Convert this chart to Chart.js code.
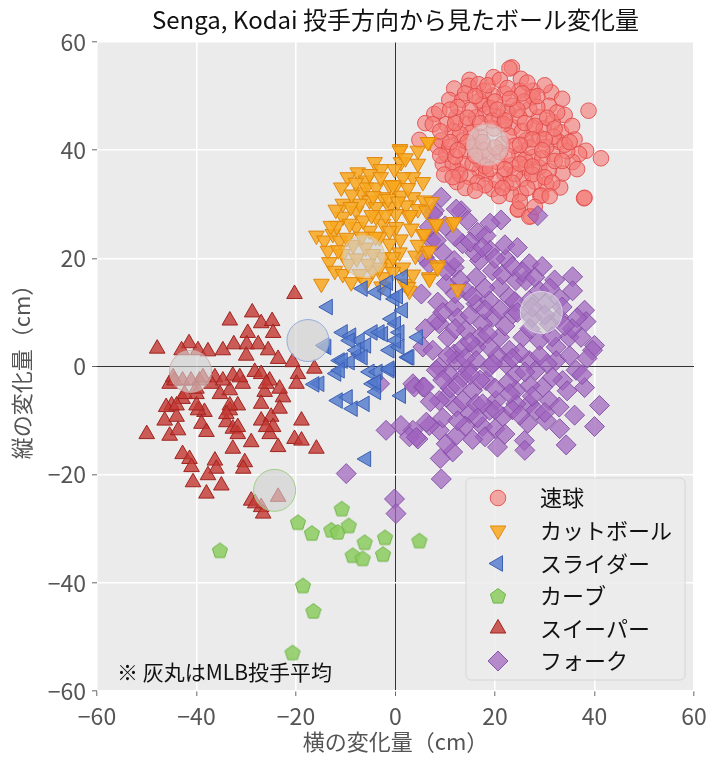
<!DOCTYPE html>
<html><head><meta charset="utf-8">
<script src="https://cdn.jsdelivr.net/npm/chart.js@4.4.1/dist/chart.umd.min.js"></script>
<style>html,body{margin:0;padding:0;background:#fff}canvas{display:block}</style>
</head><body>
<canvas id="c" width="720" height="765"></canvas>
<script>
const titleText = 'Senga, Kodai 投手方向から見たボール変化量';
const xTitle = '横の変化量（cm）';
const yTitle = '縦の変化量（cm）';
const noteText = '※ 灰丸はMLB投手平均';
const pitchNames = ['速球', 'カットボール', 'スライダー', 'カーブ', 'スイーパー', 'フォーク'];
const axisMin = -60, axisMax = 60, axisStep = 20;

const fastball = [[23.4,55.3],[22.9,55.1],[19.7,53.5],[25.2,53.2],[14.9,53.0],[14.7,51.9],[11.8,51.4],[16.7,52.2],[31.3,50.7],[27.6,51.0],[24.9,51.0],[38.8,47.3],[10.8,49.3],[13.4,49.3],[6.0,45.0],[7.8,46.7],[4.8,41.9],[9.5,37.5],[12.3,34.1],[19.5,32.8],[25.2,32.0],[29.1,31.6],[33.1,33.1],[24.6,29.0],[27.2,27.8],[37.9,31.1],[41.3,38.5],[38.3,39.9],[36.9,39.3],[35.6,37.8],[33.6,35.7],[33.3,43.3],[32.9,41.5],[30.9,48.2],[21.9,50.5],[19.5,50.1],[17.5,48.5],[8.5,40.6],[12.5,36.2],[16.9,36.2],[21.9,35.6],[25.6,34.7],[30.3,33.7],[28.9,36.8],[31.6,39.3],[31.6,45.2],[28.9,46.1],[26.9,47.6],[23.6,48.2],[18.2,46.7],[14.2,44.8],[11.5,43.6],[9.2,41.8],[10.2,39.3],[14.2,39.9],[13.5,37.5],[16.9,38.1],[24.9,39.3],[26.2,41.8],[28.9,42.4],[27.6,44.2],[23.6,44.2],[24.9,46.1],[20.9,46.1],[16.2,46.1],[12.2,46.1],[10.2,44.8],[13.5,41.8],[10.8,40.6],[22.2,33.7],[20.2,34.4],[23.2,37.2],[27.6,38.7],[26.2,36.8],[16.9,49.2],[27.6,49.8],[30.3,40.6],[14.9,35.0],[18.2,35.6],[23.2,31.9],[11.5,37.5],[7.5,44.8],[8.8,47.3],[24.6,29.1],[26.9,27.7],[38.0,31.2],[29.3,31.6],
[17.0,42.5],[19.8,44.0],[21.5,41.2],[15.6,40.8],[18.8,39.0],[20.5,37.8],[22.8,42.7],[25.4,43.5],[19.0,47.8],[15.2,43.2],[17.8,40.0],[21.0,39.6],[23.9,40.8],[26.0,38.2],[29.5,38.5],[30.8,36.2],[28.0,34.2],[24.0,35.6],[18.0,37.0],[13.0,43.0],[12.0,38.8],[15.0,47.5],[20.0,49.0],[22.5,47.0],[25.8,49.0],[29.8,44.0],[34.5,39.8],[31.8,42.5],[27.0,40.5],[16.5,34.0],[20.8,31.5],[14.0,33.0],[9.8,35.5],[17.8,51.0],[30.0,52.0],[34.0,46.5],[36.0,42.0],[12.5,48.0],[27.5,35.5],[21.8,44.8],
[14.0,50.5],[18.5,52.0],[21.0,53.0],[26.5,52.5],[28.5,48.0],[32.5,47.0],[33.5,49.5],[35.5,44.5],[34.0,41.0],[36.5,36.5],[32.0,38.0],[30.0,35.0],[26.5,33.0],[23.5,34.0],[21.5,33.0],[18.0,33.5],[15.5,37.5],[13.0,35.5],[11.0,41.5],[9.0,43.5],[12.0,45.0],[14.5,46.0],[17.0,45.0],[19.5,45.5],[22.0,45.5],[24.5,47.5],[26.0,45.0],[28.0,44.5],[30.5,46.0],[32.0,44.0],[30.0,42.0],[27.5,42.0],[25.0,41.0],[22.5,39.0],[20.0,40.5],[17.5,41.5],[16.0,39.0],[14.5,41.5],[12.5,40.0],[19.0,36.5],[22.0,36.5],[25.0,37.5],[27.5,37.0],[29.5,40.0],[31.5,34.0],[33.5,38.0],[35.0,41.5],[11.0,47.5],[16.0,50.0],[22.5,51.5],[25.5,50.5],[28.5,50.0],[20.5,47.5],[23.0,49.5],[9.0,39.0],[11.5,35.0],[16.0,32.5],[25.0,30.5],[28.0,29.5],[31.0,31.5]];

const cutter = [[0.9,40.2],[4.5,39.9],[6.7,41.5],[1.1,37.8],[4.5,37.5],[-4.2,37.8],[-2.9,36.5],[-7.6,35.9],[-9.6,35.0],[-10.9,33.1],[3.5,35.0],[5.5,34.1],[-5.9,34.4],[-1.2,33.5],[0.1,33.5],[-6.9,32.2],[-10.6,30.1],[-5.2,30.7],[-2.5,31.3],[1.1,31.6],[3.5,31.3],[5.8,30.7],[4.5,29.1],[2.1,29.8],[-10.6,27.7],[-7.9,28.8],[-3.9,29.5],[-1.2,29.5],[11.5,26.4],[8.2,26.1],[5.5,24.5],[6.2,21.4],[8.5,18.7],[-15.9,24.2],[-14.3,23.3],[-12.6,24.5],[-13.6,21.4],[-13.3,19.3],[-12.2,17.7],[-10.6,17.1],[-8.9,15.6],[-14.9,15.3],[-4.6,17.7],[-2.5,16.5],[-1.2,19.0],[1.5,18.3],[0.8,21.1],[1.8,15.3],[2.8,14.0],[-1.2,22.7],[-7.9,25.8],[-5.2,25.1],[-2.5,26.4],[0.1,25.8],[-3.9,27.7],[-6.5,27.0],[-9.2,26.4],[-11.2,23.3],[-3.2,23.9],[-1.2,25.1],[-10.6,20.8],[-2.5,20.2],[-0.5,20.2],[-3.2,18.3],[-7.2,17.1],[-5.9,33.1],[-3.9,33.1],[1.5,35.0],[-5.2,35.6],[-7.2,30.1],[0.1,28.2],[2.8,27.7],[6.8,16.5],[6.2,28.8],[7.2,30.4],[11.8,26.7],[8.2,26.4],[5.8,24.5],[6.8,21.4],[8.5,18.3],[6.8,16.2],[12.5,14.3],[2.5,14.7],[0.9,39.9],[6.5,41.5],
[-8.5,22.5],[-6.0,22.0],[-4.5,20.8],[-9.5,19.0],[-5.5,19.0],[-7.8,20.0],[-4.0,24.0],[-9.8,23.8],[-2.0,28.0],[-8.8,31.8],[-0.2,36.5],[2.5,33.0],[-4.8,28.0],[-11.8,26.0],[-6.8,24.0],[-1.5,31.0],[3.2,25.5],[4.0,20.5],[-12.0,29.0],[1.0,23.5],
[-9.0,29.5],[-3.0,35.0],[2.0,38.5],[3.0,28.0],[-0.5,17.5],[-6.0,15.5],[-11.5,21.5],[-13.0,26.0],[-4.5,31.5],[0.5,30.5],[-8.0,34.0],[4.5,22.5],[3.5,17.0],[-2.8,14.8],[-0.5,33.5]];

const slider = [[-13.6,11.0],[-6.6,14.4],[-3.9,13.7],[-1.9,14.0],[-0.2,12.5],[1.5,16.5],[1.5,10.4],[-10.6,6.3],[-8.9,5.7],[-7.2,4.8],[-4.6,6.3],[-2.5,6.0],[0.1,7.9],[0.8,6.3],[4.5,5.4],[-13.9,3.6],[-11.2,1.1],[-9.2,0.8],[-7.2,2.3],[-5.9,3.9],[-1.2,3.0],[0.8,3.6],[2.5,1.7],[-11.9,-1.3],[-5.2,-1.0],[-3.6,-1.0],[-1.2,-0.7],[-15.3,-3.2],[-4.6,-3.2],[-3.9,-4.7],[-11.6,-6.3],[-9.6,-5.7],[-8.6,-7.8],[-6.2,-6.9],[1.1,-5.4],[-5.9,-17.1],[0.1,4.8],[-3.2,6.3],[-9.2,4.8],[-7.9,3.0],[-16.3,-3.3],[-14.3,3.9],[-10.6,1.1],[-11.2,-0.7],[-6.6,1.7],[2.8,1.7],[-1.2,-0.4],[-3.9,-2.9],[-0.8,8.8],[-1.5,15.5],[0.5,13.0]];

const curve = [[-10.8,-26.3],[-19.6,-28.8],[-16.8,-30.8],[-12.9,-30.2],[-11.6,-30.6],[-9.4,-29.4],[-6.2,-32.5],[-2.1,-31.6],[-8.6,-34.9],[-6.6,-35.5],[-2.5,-34.7],[4.8,-32.2],[-35.3,-34.0],[-18.6,-40.5],[-16.5,-45.2],[-20.7,-52.9]];

const sweeper = [[-20.3,13.4],[-28.8,10.0],[-33.3,8.5],[-27.0,8.0],[-24.8,8.4],[-24.6,6.2],[-29.7,6.2],[-47.9,3.3],[-41.5,4.3],[-43.0,3.0],[-39.7,3.0],[-37.7,2.8],[-34.7,3.0],[-32.5,4.1],[-29.9,4.1],[-27.6,4.1],[-25.6,3.0],[-23.6,1.4],[-20.7,0.8],[-16.3,-0.4],[-19.6,-1.4],[-19.9,-3.2],[-30.0,2.0],[-28.3,-1.0],[-32.7,-1.7],[-36.3,-2.0],[-45.4,-3.2],[-25.3,-2.6],[-27.0,-1.4],[-30.7,-3.2],[-22.6,-5.7],[-26.3,-4.7],[-35.3,-5.1],[-33.3,-4.4],[-40.0,-5.1],[-42.8,-6.0],[-45.0,-7.2],[-46.1,-7.5],[-38.4,-8.4],[-39.7,-8.1],[-33.3,-8.1],[-31.7,-7.2],[-27.0,-6.9],[-46.4,-10.0],[-44.0,-9.3],[-39.0,-10.6],[-34.0,-10.3],[-27.0,-10.0],[-25.0,-9.3],[-23.3,-7.8],[-18.9,-10.0],[-50.0,-12.5],[-45.4,-12.8],[-43.7,-11.8],[-38.0,-12.1],[-32.7,-11.5],[-31.7,-12.5],[-25.3,-12.5],[-24.6,-11.2],[-29.0,-14.0],[-32.7,-15.2],[-23.6,-14.9],[-20.3,-13.4],[-18.9,-13.7],[-15.9,-15.2],[-42.8,-16.2],[-41.4,-17.1],[-41.0,-18.6],[-36.3,-17.4],[-36.0,-18.9],[-30.3,-17.7],[-30.6,-18.9],[-40.7,-21.4],[-37.7,-20.1],[-35.0,-22.0],[-38.0,-23.5],[-29.0,-24.8],[-23.6,-24.1],[-27.0,-26.0],[-26.6,-27.2],[-31.3,-2.0],[-44.7,-2.0],[-44.0,-7.2],[-34.7,-2.6],[-33.3,-7.2],[-34.0,-8.8],[-40.0,-7.2],[-42.4,-5.1],[-26.0,-3.2],[-23.3,-4.1],[-37.0,-3.2],[-31.7,-11.2],[-26.0,-11.2],[-44.4,-2.6],[-42.8,-2.6],[-41.1,-2.6],[-39.4,-2.6],[-40.0,-4.1],[-38.7,-2.0],[-28.2,-25.3]];

const fork = [[9.2,31.3],[13.2,28.8],[21.2,27.1],[28.6,27.9],[7.8,28.8],[7.2,23.3],[9.5,21.1],[5.8,20.2],[5.2,13.4],[8.5,11.9],[16.5,24.8],[18.2,24.2],[13.5,22.7],[22.2,19.9],[26.9,19.0],[35.6,16.6],[35.6,14.0],[38.0,10.4],[38.3,8.3],[40.0,3.9],[11.8,18.3],[16.9,19.6],[19.5,17.7],[24.2,15.9],[28.9,14.0],[32.9,9.1],[34.9,5.4],[37.3,5.4],[10.2,15.3],[14.2,14.0],[16.2,16.5],[20.9,14.7],[22.9,12.8],[26.2,15.9],[8.8,7.9],[11.8,11.0],[16.2,11.6],[18.9,12.2],[19.5,9.1],[23.6,9.7],[26.9,12.2],[30.9,7.9],[10.5,5.4],[14.2,6.7],[17.5,7.9],[20.9,5.4],[25.6,5.4],[28.9,4.8],[16.2,3.6],[22.9,3.0],[32.3,3.6],[11.8,2.3],
[8.8,-0.1],[10.8,-1.4],[16.2,1.1],[22.2,0.5],[26.9,1.1],[32.3,1.1],[36.3,-0.7],[39.6,3.0],[3.5,-3.2],[5.5,-3.8],[-3.2,-3.2],[10.2,-5.7],[12.2,-7.5],[15.5,-4.4],[18.2,-2.6],[20.2,-6.3],[24.2,-4.4],[26.9,-6.9],[30.9,-6.3],[38.0,-3.9],[41.0,-7.2],[40.0,-11.1],[34.3,-14.5],[30.3,-10.0],[26.6,-10.5],[25.9,-13.7],[20.5,-14.9],[17.5,-11.1],[14.9,-8.7],[8.8,-11.8],[11.5,-15.8],[10.2,-14.3],[12.2,-12.8],[6.8,-10.9],[4.5,-13.4],[3.5,-11.8],[1.1,-10.9],[-1.9,-11.8],[-9.9,-19.8],[9.2,-20.8],[-0.2,-24.5],[0.1,-27.2],[8.8,-6.3],[13.5,-6.3],[16.2,-6.9],[18.9,-8.1],[21.6,-9.3],[24.2,-6.9],[28.2,-8.1],[32.9,-7.5],[29.6,-3.8],[33.6,-2.6],[13.5,-2.0],[18.9,-0.1],[24.2,-1.4],[28.2,-0.7],[12.2,1.1],[17.5,-6.9],[2.8,-13.0],[6.2,-10.3],
[12.2,29.1],[7.5,28.2],[6.8,25.8],[8.2,23.3],[10.2,17.7],[11.8,19.6],[6.8,19.0],[5.5,3.6],[8.2,8.5],[3.8,-3.8],[5.8,-3.8],[4.2,-13.1],[8.2,-0.7],
[12.5,9.0],[15.0,9.5],[18.0,14.5],[21.5,17.0],[24.0,12.0],[27.5,9.0],[30.0,11.5],[33.0,12.5],[13.0,16.0],[16.0,21.0],[19.0,21.5],[22.0,22.5],[14.5,-0.5],[20.5,2.0],[25.0,2.5],[30.5,0.5],[34.5,-4.5],[22.5,-3.0],[27.0,-3.5],[11.0,-4.0],[7.5,3.0],[9.5,-9.5],[14.0,-11.0],[20.0,-11.5],[23.5,-8.0],[13.5,3.5],[17.0,5.5],[19.5,0.5],[31.5,-2.0],[35.0,2.0],[36.5,9.0],[32.0,16.0],[29.5,18.5],[19.0,26.5],[24.5,22.0],[14.5,27.0],[6.0,7.0],[7.0,-6.5],[26.0,-15.5],[36.0,-9.0],[9.0,-17.0],
[10.0,26.0],[12.0,24.0],[15.0,23.0],[17.5,22.0],[20.0,20.0],[23.5,18.5],[25.5,17.5],[28.0,16.5],[31.0,14.5],[33.5,11.0],[35.5,7.0],[31.5,5.5],[27.0,7.0],[22.0,7.5],[18.5,6.0],[15.0,4.5],[12.0,7.0],[9.5,10.0],[12.0,13.5],[15.5,13.0],[18.0,10.5],[21.0,10.5],[24.5,10.0],[27.5,11.0],[29.0,2.0],[26.0,-1.0],[23.0,-5.0],[20.0,-4.0],[17.0,-2.5],[15.0,-1.5],[12.5,-3.5],[9.5,-2.5],[10.5,2.0],[14.0,1.5],[19.0,3.5],[23.5,1.5],[27.5,-5.5],[30.0,-8.5],[25.0,-9.0],[22.0,-12.5],[18.0,-13.0],[15.5,-13.5],[12.5,-10.0],[16.5,-9.5],[20.0,-8.0],[33.0,-11.5],[37.5,-1.5],[38.5,1.5],[34.0,7.5],[30.0,9.5]];

// MLB averages, same order as pitchNames
const mlbAvg = [[18.5,41.0],[-6.4,20.4],[-17.6,4.8],[-24.3,-22.9],[-41.2,-0.9],[29.3,10.0]];

const FONT = "'Noto Sans CJK JP', 'Noto Sans', sans-serif";

function makePentagon(r, fill, stroke) {
  const s = Math.ceil(r * 2 + 4);
  const c = document.createElement('canvas');
  c.width = s; c.height = s;
  const g = c.getContext('2d');
  g.beginPath();
  for (let i = 0; i < 5; i++) {
    const a = -Math.PI / 2 + i * 2 * Math.PI / 5;
    const px = s / 2 + r * Math.cos(a), py = s / 2 + 0.6 + r * Math.sin(a);
    if (i) g.lineTo(px, py); else g.moveTo(px, py);
  }
  g.closePath();
  g.fillStyle = fill; g.fill();
  g.lineWidth = 1; g.strokeStyle = stroke; g.stroke();
  return c;
}
const pentagon = makePentagon(8, 'rgba(140,205,95,0.85)', 'rgba(110,180,70,1)');

const styles = [
  { style: 'circle', radius: 7.8, rotation: 0, bg: 'rgba(245,120,115,0.6)', bd: 'rgba(225,70,70,0.85)', mlbBd: 'rgba(240,150,150,0.9)' },
  { style: 'triangle', radius: 9, rotation: 180, bg: 'rgba(248,168,30,0.85)', bd: 'rgba(225,135,10,1)', mlbBd: 'rgba(240,190,110,0.9)' },
  { style: 'triangle', radius: 9, rotation: 270, bg: 'rgba(80,120,205,0.8)', bd: 'rgba(60,95,180,1)', mlbBd: 'rgba(140,165,220,0.9)' },
  { style: pentagon, radius: 8, rotation: 0, bg: 'rgba(140,205,95,0.85)', bd: 'rgba(110,180,70,1)', mlbBd: 'rgba(150,205,120,0.9)' },
  { style: 'triangle', radius: 9, rotation: 0, bg: 'rgba(195,55,50,0.8)', bd: 'rgba(160,35,30,1)', mlbBd: 'rgba(205,170,170,0.9)' },
  { style: 'rectRot', radius: 10, rotation: 0, bg: 'rgba(160,100,190,0.72)', bd: 'rgba(130,75,165,0.9)', mlbBd: 'rgba(225,215,235,0.9)' }
];
const seriesData = [fastball, cutter, slider, curve, sweeper, fork];
const drawOrder = [6, 4, 3, 2, 1, 5]; // larger = drawn lower

const datasets = seriesData.map((pts, i) => ({
  label: pitchNames[i],
  data: pts.map(p => ({ x: p[0], y: p[1] })),
  pointStyle: styles[i].style,
  pointRadius: styles[i].radius,
  pointRotation: styles[i].rotation,
  backgroundColor: styles[i].bg,
  borderColor: styles[i].bd,
  pointBorderWidth: 1,
  order: drawOrder[i]
}));
datasets.push({
  label: 'MLB',
  data: mlbAvg.map(p => ({ x: p[0], y: p[1] })),
  pointStyle: 'circle',
  pointRadius: 21,
  backgroundColor: 'rgba(208,208,208,0.62)',
  borderColor: styles.map(s => s.mlbBd),
  pointBorderWidth: 1,
  order: 0
});

const bgPlugin = {
  id: 'bg',
  beforeDraw(chart) {
    const { ctx, chartArea: a } = chart;
    ctx.save();
    ctx.fillStyle = '#ffffff';
    ctx.fillRect(0, 0, chart.width, chart.height);
    ctx.fillStyle = '#EBEBEB';
    ctx.fillRect(a.left, a.top, a.right - a.left, a.bottom - a.top);
    ctx.restore();
  }
};

const textPlugin = {
  id: 'texts',
  afterDraw(chart) {
    const { ctx, chartArea: a } = chart;
    ctx.save();
    ctx.fillStyle = '#111';
    ctx.font = '24px ' + FONT;
    ctx.textAlign = 'center';
    ctx.textBaseline = 'middle';
    ctx.fillText(titleText, (a.left + a.right) / 2, 20);
    ctx.fillStyle = '#555';
    ctx.font = '22px ' + FONT;
    ctx.fillText(xTitle, (a.left + a.right) / 2, 742);
    ctx.save();
    ctx.translate(22, (a.top + a.bottom) / 2);
    ctx.rotate(-Math.PI / 2);
    ctx.fillText(yTitle, 0, 0);
    ctx.restore();
    ctx.fillStyle = '#111';
    ctx.font = '21px ' + FONT;
    ctx.textAlign = 'left';
    ctx.fillText(noteText, 117, 672);
    const bx = 466, by = 478, bw = 219, bh = 202;
    ctx.beginPath();
    ctx.roundRect(bx, by, bw, bh, 5);
    ctx.fillStyle = 'rgba(236,236,236,0.85)';
    ctx.fill();
    ctx.strokeStyle = '#d6d6d6';
    ctx.lineWidth = 1;
    ctx.stroke();
    const ys = [498, 530.5, 563.5, 596, 628.5, 661];
    pitchNames.forEach((name, i) => {
      const s = styles[i];
      ctx.fillStyle = s.bg;
      ctx.strokeStyle = s.bd;
      ctx.lineWidth = 1;
      Chart.helpers.drawPoint(ctx, { pointStyle: s.style, radius: s.radius, rotation: s.rotation, borderWidth: 1 }, 498, ys[i]);
      ctx.fillStyle = '#111';
      ctx.font = '22px ' + FONT;
      ctx.textAlign = 'left';
      ctx.textBaseline = 'middle';
      ctx.fillText(name, 540, ys[i]);
    });
    ctx.restore();
  }
};

const fmt = v => (v < 0 ? '\u2212' + Math.abs(v) : String(v));
const gridColor = c => (c.tick && c.tick.value === 0 ? '#333333' : '#ffffff');
const gridWidth = c => (c.tick && c.tick.value === 0 ? 1 : 1.6);

new Chart(document.getElementById('c'), {
  type: 'scatter',
  data: { datasets },
  options: {
    responsive: false,
    animation: false,
    events: [],
    layout: { padding: { top: 42, right: 26, left: 0, bottom: 0 } },
    plugins: { legend: { display: false }, tooltip: { enabled: false }, title: { display: false } },
    scales: {
      x: {
        type: 'linear', min: axisMin, max: axisMax,
        afterFit: s => { s.height = 74; },
        border: { display: false },
        grid: { color: gridColor, lineWidth: gridWidth, tickColor: '#666', tickLength: 5, tickWidth: 1 },
        ticks: { stepSize: axisStep, color: '#555', padding: 6, font: { size: 23, family: FONT }, callback: fmt, maxRotation: 0 }
      },
      y: {
        type: 'linear', min: axisMin, max: axisMax,
        afterFit: s => { s.width = 97; },
        border: { display: false },
        grid: { color: gridColor, lineWidth: gridWidth, tickColor: '#666', tickLength: 5, tickWidth: 1 },
        ticks: { stepSize: axisStep, color: '#555', padding: 6, font: { size: 23, family: FONT }, callback: fmt }
      }
    }
  },
  plugins: [bgPlugin, textPlugin]
});
</script>
</body></html>
